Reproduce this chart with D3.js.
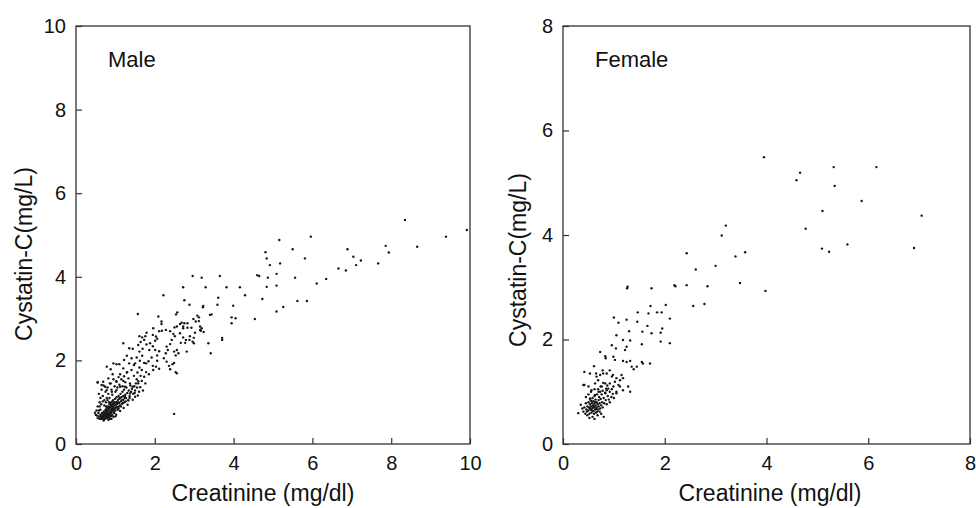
<!DOCTYPE html>
<html>
<head>
<meta charset="utf-8">
<script src="https://cdn.jsdelivr.net/npm/d3@7"></script>
<style>
  body { margin: 0; background: #fff; }
  svg { display: block; font-family: "Liberation Sans", Arial, sans-serif; }
</style>
</head>
<body>
<div id="chart"></div>
<script>
const w = 976;
const h = 508;

// creatinine (mg/dl), cystatin-C (mg/L) pairs
const maleSparse = [
  [8.35,5.36],[9.92,5.12],[9.39,4.96],[8.66,4.72],[7.86,4.74],[7.94,4.58],[7.67,4.32],[6.89,4.66],
  [7.04,4.48],[7.11,4.28],[7.23,4.39],[6.66,4.2],[6.85,4.15],[6.35,3.95],[6.11,3.84],[5.96,4.96],
  [5.5,4.66],[5.16,4.88],[5.18,4.32],[4.81,4.59],[4.84,4.44],[4.92,4.28],[5.81,4.44],[5.56,3.98],
  [5.09,4.07],[5.09,3.79],[4.87,3.98],[4.84,3.76],[4.6,4.04],[4.65,4.02],[4.73,3.47],[5.62,3.42],
  [5.86,3.42],[5.26,3.28],[5.09,3.17],[4.54,2.99],[4.16,3.75],[4.29,3.56],[3.82,3.75],[3.99,3.31],
  [3.95,3.03],[4.05,3.01],[3.95,2.89],[3.65,4.02],[3.19,3.98],[2.96,4.02],[3.29,3.75],[2.72,3.75],
  [3.61,3.5],[3.59,3.33],[3.23,3.3],[3.22,3.27],[2.75,3.44],[2.88,3.33],[2.22,3.56],[3.4,3.09],
  [3.44,3.1],[3.71,2.54],[3.71,2.49],[3.36,2.41],[3.42,2.17],[3.24,2.68],[3.17,2.71],[3.15,2.81],
  [1.57,3.11],[2.53,1.72],[2.49,0.72],[3.08,3.07],[3.12,3.03],[2.98,2.99],[3.12,2.94],[3.04,2.93],
  [2.83,2.89],[2.75,2.89],[2.64,2.87],[2.72,2.81]
];

const maleMid = [
  [2.57,3.15],[2.54,3.1],[2.68,2.9],[2.56,2.81],[2.72,2.77],[2.83,2.78],[2.93,2.78],[2.09,3.05],
  [2.17,2.93],[2.17,2.87],[1.96,2.77],[2.11,2.7],[2.28,2.73],[2.39,2.7],[2.5,2.79],[2.47,2.63],
  [2.51,2.58],[2.64,2.65],[2.72,2.55],[2.66,2.42],[2.89,2.58],[2.99,2.54],[2.88,2.49],[2.79,2.49],
  [2.77,2.42],[3.02,2.66],[3.15,2.73],[3.19,2.77],[2.43,2.49],[2.39,2.39],[2.56,2.25],[2.49,2.21],
  [2.6,2.17],[2.53,2.12],[2.3,2.33],[2.33,2.25],[2.28,2.17],[2.23,2.05],[2.3,1.97],[2.36,1.87],
  [2.45,1.91],[2.39,1.79],[2.56,1.69],[2.96,2.45],[2.99,2.41],[2.81,2.21],[2.49,1.94],[2.18,2.71],
  [1.79,2.66],[1.76,2.58],[1.95,2.61],[2.03,2.57],[2.06,2.52],[2.01,2.47],[1.88,2.41],[1.79,2.38],
  [1.95,2.34],[1.86,2.25],[2.01,2.25],[2.11,2.22],[2.06,2.12],[1.92,2.07],[2.06,1.99],[1.84,1.98],
  [1.78,1.93],[1.95,1.87],[2.03,1.85],[2.11,1.8],[1.96,1.77],
  [1.61,2.58],[1.68,2.55],[1.64,2.44],[1.73,2.49],[1.58,2.37],[1.69,2.28],[1.61,2.21],[1.68,2.11],
  [1.54,2.07],[1.62,1.99],[1.73,1.94],[1.5,1.93],[1.61,1.83],[1.67,1.77],[1.78,1.72],[1.56,1.71],
  [1.64,1.63],[1.73,1.61],[1.85,1.67],
  [1.2,2.41],[1.35,2.29],[1.44,2.28],[1.29,2.11],[1.41,2.05],[1.35,1.93],[1.22,2.01],[1.1,1.91],
  [1.47,1.89],[1.41,1.77],[1.29,1.71],[1.2,1.81],[1.12,1.67],[1.33,1.57],[1.2,1.51],[1.47,1.63],
  [1.54,1.55],[1.37,1.45],[1.24,1.37],[1.44,1.37],[1.58,1.45],[1.67,1.51],
  [0.95,1.93],[1.03,1.91],[0.88,1.79],[0.78,1.85],[0.93,1.67],[0.82,1.57],[0.69,1.49],[0.65,1.41],
  [0.55,1.47],[0.74,1.37],[0.86,1.45],[1.03,1.49],[1.12,1.37],[1.03,1.29],[0.91,1.25],[0.78,1.29],
  [1.37,1.21],[1.24,1.13],[1.33,1.04],[1.5,1.13]
];

const maleCluster = [
  [0.55,0.62],[0.58,0.66],[0.6,0.6],[0.62,0.7],[0.63,0.64],[0.65,0.68],[0.66,0.74],[0.67,0.61],
  [0.68,0.66],[0.7,0.72],[0.7,0.63],[0.71,0.78],[0.72,0.68],[0.73,0.6],[0.74,0.74],[0.75,0.65],
  [0.75,0.82],[0.76,0.7],[0.77,0.77],[0.78,0.62],[0.78,0.86],[0.79,0.72],[0.8,0.67],[0.8,0.8],
  [0.81,0.9],[0.82,0.75],[0.83,0.64],[0.83,0.84],[0.84,0.7],[0.85,0.78],[0.85,0.95],[0.86,0.88],
  [0.87,0.73],[0.88,0.82],[0.88,0.66],[0.89,0.92],[0.9,0.77],[0.9,1.0],[0.91,0.85],[0.92,0.7],
  [0.93,0.95],[0.93,0.8],[0.94,1.05],[0.95,0.88],[0.96,0.76],[0.97,0.98],[0.98,0.84],[0.99,1.08],
  [1.0,0.92],[1.0,0.8],[1.02,1.0],[1.03,1.12],[1.04,0.88],[1.05,0.96],[1.06,1.05],[1.08,0.85],
  [1.08,1.15],[1.1,0.98],[1.1,1.08],[1.12,0.92],[1.13,1.2],[1.14,1.02],[1.15,1.12],[1.17,0.96],
  [1.18,1.25],[1.2,1.06],[1.2,1.15],[1.22,1.3],[1.23,1.0],[1.25,1.18],[1.27,1.1],[1.28,1.35],
  [1.3,1.22],[1.32,1.05],[1.34,1.28],[1.36,1.15],[1.38,1.4],[1.4,1.25],[1.42,1.32],[1.45,1.2],
  [1.48,1.38],[1.5,1.28],[1.52,1.45],[1.55,1.35],[1.6,1.25],[1.58,1.5],
  [0.5,0.7],[0.52,0.8],[0.48,0.75],[0.55,0.9],[0.6,1.0],[0.62,1.1],[0.58,1.2],[0.55,1.48],
  [0.65,1.3],[0.68,1.15],[0.7,1.4],[0.72,1.05],[0.75,1.25],[0.78,1.1],[0.8,1.35],[0.82,1.2],
  [0.85,1.1],[0.88,1.45],[0.9,1.3],[0.92,1.18],[0.95,1.55],[0.98,1.38],[1.0,1.25],[1.02,1.5],
  [1.05,1.35],[1.08,1.6],[1.1,1.42],[1.15,1.55],[1.18,1.38],[1.22,1.62],[1.25,1.48],[1.3,1.72],
  [0.64,0.6],[0.71,0.58],[0.79,0.64],[0.86,0.6],[0.91,0.68],[0.97,0.74],[1.02,0.7],[1.06,0.82],
  [1.12,0.79],[1.14,0.9],[1.21,0.86],[1.26,1.02],[1.31,0.94],[1.36,1.1],[1.44,1.06],[1.49,1.22],
  [1.57,1.16],[1.63,1.36],[1.7,1.28],[1.76,1.45],
  [0.66,0.65],[0.69,0.7],[0.72,0.75],[0.74,0.68],[0.76,0.62],[0.77,0.9],[0.79,0.8],[0.81,0.72],
  [0.84,0.88],[0.86,0.68],[0.87,0.96],[0.89,0.75],[0.91,0.9],[0.92,1.02],[0.94,0.83],[0.96,0.93],
  [0.98,1.0],[1.01,0.87],[1.03,0.95],[1.07,1.0],[1.09,0.9],[1.11,1.1],[1.16,1.05],[1.19,0.98],
  [1.24,1.1],
  [0.58,0.8],[0.6,0.9],[0.64,0.95],[0.68,1.02],[0.72,0.92],[0.76,1.0],[0.8,1.05],[0.84,1.0],
  [0.9,0.6],[0.95,0.65],[1.0,0.66],[0.82,0.58],[0.7,0.56],[0.53,0.68],[0.57,0.74],[0.62,0.82]
];

const femaleSparse = [
  [3.95,5.49],[4.66,5.19],[4.59,5.05],[5.32,5.3],[6.16,5.3],[5.34,4.94],[5.87,4.65],[5.1,4.46],
  [7.05,4.37],[4.77,4.12],[5.09,3.74],[5.23,3.68],[5.59,3.82],[6.9,3.75],[3.2,4.18],[3.12,3.99],
  [3.58,3.67],[3.39,3.59],[2.43,3.65],[2.61,3.34],[3.0,3.41],[3.48,3.08],[3.98,2.93],[2.84,3.02],
  [2.43,3.04],[2.19,3.04],[2.21,3.02],[2.56,2.64],[2.78,2.68],[2.02,2.66],[1.74,2.98],[1.27,3.01],
  [1.26,2.98],[1.72,2.64],[1.85,2.52],[1.94,2.52],[1.68,2.5],[1.47,2.52],[2.1,2.4],[1.46,2.34],
  [1.0,2.42],[1.09,2.32],[1.25,2.38],[1.66,2.26],[1.56,2.15],[1.95,2.21],[1.92,2.13],[1.74,2.12],
  [2.1,1.93],[1.92,1.96],[1.55,1.91],[1.3,2.16],[1.05,2.08],[1.18,1.99],[1.32,1.98],[1.25,1.86],
  [1.22,1.8],[1.04,1.83],[0.96,1.89],[0.73,1.76],[0.83,1.68],[0.84,1.64],[0.99,1.67],[1.02,1.61],
  [1.18,1.59],[1.25,1.57],[1.32,1.59],[1.55,1.57],[1.57,1.54],[1.71,1.54],[1.35,1.48],[1.39,1.43],
  [1.45,1.48],[1.32,1.0],[0.42,1.38],[0.42,1.13],[0.3,0.59],[0.61,1.49],[0.65,1.35],[0.66,1.29],
  [0.78,1.41],[0.79,1.35]
];

const femaleMid = [
  [0.92,1.41],[0.98,1.32],[1.05,1.26],[1.15,1.32],[1.12,1.22],[1.02,1.19],[0.92,1.16],[0.83,1.16],
  [0.76,1.1],[0.89,1.06],[0.99,1.1],[1.09,1.13],[0.92,1.0],[0.83,0.97],[0.73,1.0],[0.63,0.94],
  [0.53,0.87],[0.53,1.35],[0.73,1.32],[0.86,1.35],[0.96,1.29],[1.18,1.26],[0.69,1.22],[0.63,1.16],
  [0.79,1.17],[0.4,1.13],[0.5,1.1],[0.56,1.03],[0.69,1.05],[0.86,1.03],[0.96,1.05],[1.12,1.1],
  [1.18,1.03],[1.28,1.1],[1.05,0.97]
];

const femaleCluster = [
  [0.4,0.62],[0.42,0.7],[0.44,0.58],[0.45,0.78],[0.46,0.66],[0.48,0.72],[0.48,0.55],[0.5,0.8],
  [0.5,0.64],[0.51,0.7],[0.52,0.58],[0.53,0.76],[0.54,0.84],[0.55,0.66],[0.55,0.72],[0.56,0.6],
  [0.57,0.78],[0.58,0.69],[0.58,0.88],[0.59,0.74],[0.6,0.63],[0.6,0.82],[0.61,0.7],[0.62,0.77],
  [0.62,0.92],[0.63,0.66],[0.64,0.73],[0.64,0.85],[0.65,0.6],[0.66,0.8],[0.66,0.7],[0.67,0.95],
  [0.68,0.76],[0.69,0.66],[0.7,0.84],[0.7,0.72],[0.71,0.9],[0.72,0.78],[0.73,0.68],[0.74,0.86],
  [0.75,0.74],[0.76,0.95],[0.77,0.8],[0.78,0.7],[0.8,0.88],[0.81,0.78],[0.83,0.98],[0.84,0.84],
  [0.86,0.76],[0.88,0.92],[0.9,0.85],[0.92,0.8],[0.95,0.9],[0.52,0.5],[0.58,0.52],[0.62,0.48],
  [0.68,0.55],[0.75,0.58],[0.8,0.52],[0.45,0.9],[0.5,0.95],[0.55,1.0],[0.38,0.68],[0.35,0.75],
  [0.56,0.82],[0.6,0.72],[0.63,0.8],[0.65,0.67],[0.53,0.68],[0.57,0.64],[0.61,0.58],[0.67,0.62],
  [0.72,0.62],[0.47,0.62],[0.7,1.0],[0.78,1.02],[0.85,1.06],[0.62,1.05],[0.98,0.96],[1.0,0.88],
  [1.05,1.0],[0.87,1.12],[0.74,1.1]
];

const maleTicks = [0, 2, 4, 6, 8, 10];
const femaleTicks = [0, 2, 4, 6, 8];
const xTitle = "Creatinine (mg/dl)";
const yTitle = "Cystatin-C(mg/L)";

const svg = d3.select('#chart')
  .append('svg')
  .attr('width', w)
  .attr('height', h);

const panels = [
  { name: "Male", data: maleSparse.concat(maleMid, maleCluster), ticks: maleTicks,
    x0: 76, x1: 470, yTitleX: 24, yTitleY: 254, xTitleX: 263 },
  { name: "Female", data: femaleSparse.concat(femaleMid, femaleCluster), ticks: femaleTicks,
    x0: 563, x1: 970, yTitleX: 518, yTitleY: 260, xTitleX: 770 }
];
const plotTop = 26;
const plotBottom = 444;

panels.forEach(function(p) {
  const max = p.ticks[p.ticks.length - 1];
  const xScale = d3.scaleLinear().domain([0, max]).range([p.x0, p.x1]);
  const yScale = d3.scaleLinear().domain([0, max]).range([plotBottom, plotTop]);

  const g = svg.append('g');

  const xAxis = d3.axisBottom(xScale).tickValues(p.ticks).tickSize(-6).tickPadding(12);
  const yAxis = d3.axisLeft(yScale).tickValues(p.ticks).tickSize(-6).tickPadding(10);

  g.append('g')
    .attr('transform', 'translate(0,' + plotBottom + ')')
    .call(xAxis);
  g.append('g')
    .attr('transform', 'translate(' + p.x0 + ',0)')
    .call(yAxis);

  g.selectAll('.domain').remove();
  g.selectAll('.tick line').attr('stroke', '#333').attr('stroke-width', 1.2);
  g.selectAll('.tick text')
    .attr('fill', '#111')
    .attr('font-size', '20px')
    .attr('font-family', '"Liberation Sans", Arial, sans-serif');

  g.append('rect')
    .attr('x', p.x0)
    .attr('y', plotTop)
    .attr('width', p.x1 - p.x0)
    .attr('height', plotBottom - plotTop)
    .attr('fill', 'none')
    .attr('stroke', '#333')
    .attr('stroke-width', 1.3);

  g.selectAll('circle')
    .data(p.data)
    .enter()
    .append('circle')
    .attr('cx', function(d) { return xScale(d[0]); })
    .attr('cy', function(d) { return yScale(d[1]); })
    .attr('r', 1.2)
    .attr('fill', '#151515');

  g.append('text')
    .attr('x', p.x0 + 32)
    .attr('y', 67)
    .attr('font-size', '22px')
    .attr('fill', '#111')
    .text(p.name);

  g.append('text')
    .attr('x', p.xTitleX)
    .attr('y', 501)
    .attr('text-anchor', 'middle')
    .attr('font-size', '23px')
    .attr('fill', '#111')
    .text(xTitle);

  g.append('text')
    .attr('transform', 'translate(' + p.yTitleX + ',' + p.yTitleY + ') rotate(-90)')
    .attr('text-anchor', 'middle')
    .attr('dy', '0.35em')
    .attr('font-size', '23px')
    .attr('fill', '#111')
    .text(yTitle);
});
</script>
</body>
</html>
